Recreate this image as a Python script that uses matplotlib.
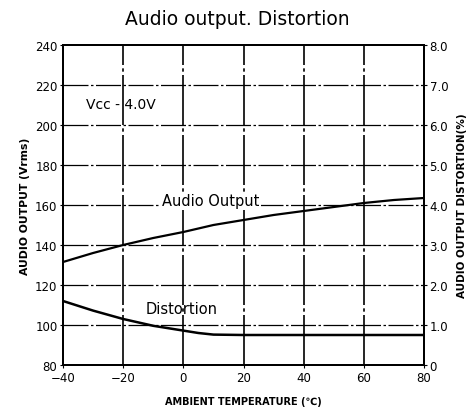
import matplotlib.pyplot as plt

# data
temp = [-40, -30, -20, -10, 0, 10, 20, 30, 40, 50, 60, 70, 80]
audio_out = [131.5, 136, 140, 143.5, 146.5, 150, 152.5, 155, 157, 159, 161, 162.5, 163.5]
dist_temp = [-40, -30, -20, -10, 0, 5, 10, 20, 40, 60, 80]
distortion = [1.6, 1.36, 1.15, 0.98, 0.86, 0.8, 0.76, 0.75, 0.75, 0.75, 0.75]

x_ticks = [-40, -20, 0, 20, 40, 60, 80]
left_ticks = [80, 100, 120, 140, 160, 180, 200, 220, 240]
right_ticks = [0, 1, 2, 3, 4, 5, 6, 7, 8]
right_labels = ['0', '1.0', '2.0', '3.0', '4.0', '5.0', '6.0', '7.0', '8.0']

fig = plt.figure(figsize=(4.75, 4.14), dpi=100)
ax = fig.add_axes([63/475, 48/414, 361/475, 320/414])
ax2 = ax.twinx()

ax.plot(temp, audio_out, color='black', lw=1.6)
ax2.plot(dist_temp, distortion, color='black', lw=1.8)

ax.set_xlim(-40, 80)
ax.set_ylim(80, 240)
ax2.set_ylim(0, 8)
ax.set_xticks(x_ticks)
ax.set_yticks(left_ticks)
ax2.set_yticks(right_ticks)
ax2.set_yticklabels(right_labels)

for v in x_ticks[1:-1]:
    ax.axvline(v, color='black', lw=1.2, ls=(0, (30, 2, 2, 2)))
for v in left_ticks[1:-1]:
    ax.axhline(v, color='black', lw=0.9, ls=(0, (20, 2, 2, 2)))

for a in (ax, ax2):
    for s in a.spines.values():
        s.set_linewidth(1.4)
    a.tick_params(length=2, labelsize=8.5, pad=2)

ax.text(-32.5, 210.5, 'Vcc - 4.0V', fontsize=10, va='center')
ax.text(-7, 162, 'Audio Output', fontsize=10.5, ha='left', va='center',
        bbox=dict(facecolor='white', edgecolor='none', pad=1))
ax.text(-12.5, 108, 'Distortion', fontsize=10.5, va='center')

ax.set_xlabel('AMBIENT TEMPERATURE (\u2103)', fontsize=7, fontweight='bold', labelpad=9)
ax.set_ylabel('AUDIO OUTPUT (Vrms)', fontsize=7.8, fontweight='bold', labelpad=4)
ax2.set_ylabel('AUDIO OUTPUT DISTORTION(%)', fontsize=7.5, fontweight='bold', labelpad=6)
fig.suptitle('Audio output. Distortion', fontsize=13.5, y=0.975)

plt.savefig('out.png', dpi=100)
